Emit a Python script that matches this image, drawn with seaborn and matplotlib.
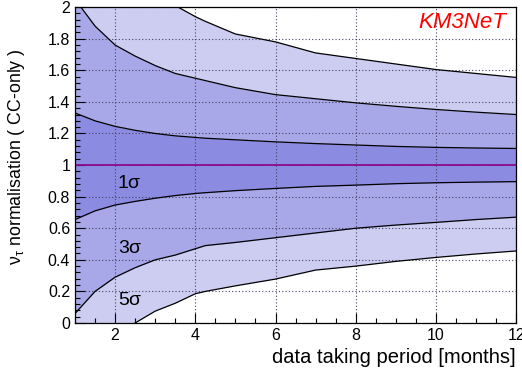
import numpy as np
import pandas as pd
import matplotlib
matplotlib.use('Agg')
import matplotlib.pyplot as plt
from matplotlib.ticker import MultipleLocator
import seaborn as sns

# months of data taking
months = [1, 1.5, 2, 2.5, 3, 3.5, 4, 4.25, 5, 6, 7, 8, 9, 10, 11, 12]

# band edges
up_5s = [2.6, 2.45, 2.3, 2.2, 2.1, 2.01, 1.94, 1.91, 1.83, 1.78, 1.71, 1.675, 1.64, 1.605, 1.58, 1.555]
up_3s = [2.05, 1.88, 1.76, 1.69, 1.63, 1.58, 1.55, 1.535, 1.49, 1.446, 1.42, 1.394, 1.372, 1.352, 1.335, 1.32]
up_1s = [1.33, 1.28, 1.245, 1.22, 1.2, 1.185, 1.175, 1.17, 1.16, 1.147, 1.136, 1.127, 1.118, 1.112, 1.108, 1.105]
lo_1s = [0.655, 0.71, 0.747, 0.77, 0.79, 0.807, 0.82, 0.825, 0.838, 0.852, 0.865, 0.873, 0.882, 0.888, 0.892, 0.895]
lo_3s = [0.06, 0.2, 0.29, 0.35, 0.40, 0.43, 0.47, 0.49, 0.51, 0.54, 0.57, 0.60, 0.62, 0.637, 0.655, 0.67]
lo_5s = [-0.3, -0.2, -0.1, 0.0, 0.075, 0.125, 0.185, 0.2, 0.235, 0.278, 0.335, 0.36, 0.39, 0.415, 0.437, 0.456]

nominal = 1.0
sigma_labels = ['1σ', '3σ', '5σ']
sigma_label_y = [0.885, 0.47, 0.145]

df = pd.DataFrame({'months': months, 'up_5s': up_5s, 'up_3s': up_3s, 'up_1s': up_1s,
                   'lo_1s': lo_1s, 'lo_3s': lo_3s, 'lo_5s': lo_5s})

sns.set_style('ticks')
plt.rcParams['font.family'] = ['Liberation Sans', 'DejaVu Sans']
plt.rcParams['text.color'] = 'black'
plt.rcParams['axes.labelcolor'] = 'black'
plt.rcParams['xtick.color'] = 'black'
plt.rcParams['ytick.color'] = 'black'
plt.rcParams['mathtext.default'] = 'regular'

fig = plt.figure(figsize=(5.22, 3.76), dpi=100)
ax = fig.add_axes([0.1437, 0.141, 0.845, 0.840])

# bands, outermost first
ax.fill_between(df['months'], df['lo_5s'], df['up_5s'], color='#cdcdf2', lw=0, zorder=1)
ax.fill_between(df['months'], df['lo_3s'], df['up_3s'], color='#a8a7e8', lw=0, zorder=1)
ax.fill_between(df['months'], df['lo_1s'], df['up_1s'], color='#8b8be2', lw=0, zorder=1)

for col in ['up_5s', 'up_3s', 'up_1s', 'lo_1s', 'lo_3s', 'lo_5s']:
    sns.lineplot(data=df, x='months', y=col, ax=ax, color='black', lw=0.9, zorder=3)

ax.axhline(nominal, color='#8e0a8e', lw=1.3, zorder=4)

ax.set_xlim(1, 12)
ax.set_ylim(0, 2)
ax.xaxis.set_minor_locator(MultipleLocator(0.5))
ax.yaxis.set_minor_locator(MultipleLocator(0.04))
ax.set_yticks(np.arange(0, 2.01, 0.2))
ax.set_yticklabels(['0', '0.2', '0.4', '0.6', '0.8', '1', '1.2', '1.4', '1.6', '1.8', '2'])
ax.set_xticks([2, 4, 6, 8, 10, 12])
ax.set_xticklabels(['2', '4', '6', '8', '10', '12'])
ax.tick_params(which='major', direction='in', length=7, width=0.8, labelsize=11.5)
ax.tick_params(which='minor', direction='in', length=3.5, width=0.8)
ax.set_axisbelow(False)
ax.grid(True, which='major', color='#444466', ls=(0, (1, 2)), lw=0.8, zorder=2)
for s in ax.spines.values():
    s.set_linewidth(0.9)
    s.set_color('black')
    s.set_zorder(5)

ax.set_xlabel('data taking period [months]', fontsize=14.5, loc='right')
ax.set_ylabel(r'$\nu_{\tau}$ normalisation ( CC-only )', fontsize=12.8)
ax.yaxis.set_label_coords(-0.108, 0.527)

for lab, yy in zip(sigma_labels, sigma_label_y):
    ax.text(2.07, yy, lab, fontsize=14, va='center', ha='left', zorder=6)

ax.text(11.75, 1.905, 'KM3NeT', color='#ff0000', fontsize=16, style='italic',
        ha='right', va='center', zorder=6)

fig.savefig('out.png', dpi=100)
